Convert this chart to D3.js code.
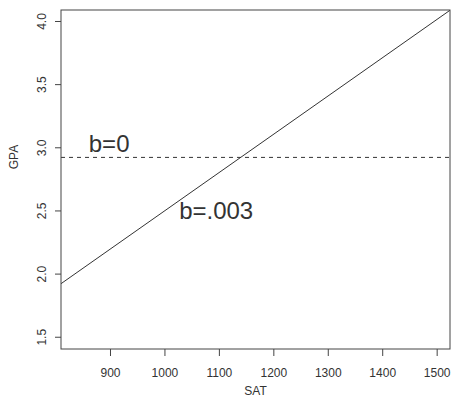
<!DOCTYPE html>
<meta charset="utf-8" />
<style>
  body { margin: 0; background: #fff; }
  text { font-family: "Liberation Sans", Arial, sans-serif; fill: #333; }
</style>
<svg width="451" height="405"></svg>
<script src="https://d3js.org/d3.v7.min.js"></script>
<script>
    // data
    var satTicks = [900, 1000, 1100, 1200, 1300, 1400, 1500];
    var gpaTicks = [1.5, 2.0, 2.5, 3.0, 3.5, 4.0];
    var satRange = [810, 1524.5];
    var gpaRange = [1.403, 4.087];

    // fitted line (b=.003) and the flat line (b=0)
    var fitLine = [{ sat: 810, gpa: 1.92 }, { sat: 1524.5, gpa: 4.085 }];
    var flatLine = [{ sat: 810, gpa: 2.92 }, { sat: 1524.5, gpa: 2.92 }];
    var labels = [
        { text: "b=0", sat: 861, gpa: 2.965 },
        { text: "b=.003", sat: 1027, gpa: 2.43 }
    ];

    var svg = d3.select("svg");
    // plot box edges (note: "top" is taken by window.top)
    var boxL = 61, boxR = 450, boxT = 10, boxB = 349;

    var x = d3.scaleLinear().domain(satRange).range([boxL, boxR]);
    var y = d3.scaleLinear().domain(gpaRange).range([boxB, boxT]);

    svg.append("clipPath").attr("id", "plot")
        .append("rect")
        .attr("x", boxL).attr("y", boxT)
        .attr("width", boxR - boxL).attr("height", boxB - boxT);

    var line = d3.line().x(d => x(d.sat)).y(d => y(d.gpa));

    var g = svg.append("g").attr("clip-path", "url(#plot)");
    g.append("path")
        .datum(flatLine)
        .attr("d", line)
        .attr("fill", "none")
        .attr("stroke", "#333")
        .attr("stroke-dasharray", "4,4");
    g.append("path")
        .datum(fitLine)
        .attr("d", line)
        .attr("fill", "none")
        .attr("stroke", "#333");

    // box
    svg.append("rect")
        .attr("x", boxL).attr("y", boxT)
        .attr("width", boxR - boxL).attr("height", boxB - boxT)
        .attr("fill", "none")
        .attr("stroke", "#444");

    // x axis
    var xAxis = svg.append("g")
        .attr("transform", "translate(0," + boxB + ")")
        .call(d3.axisBottom(x).tickValues(satTicks).tickSize(7).tickPadding(12).tickFormat(d3.format("d")));
    xAxis.select(".domain").remove();
    xAxis.selectAll("line").attr("stroke", "#444");
    xAxis.selectAll("text").attr("font-size", 12).attr("fill", "#333");

    // y axis, labels turned like R's default
    var yAxis = svg.append("g")
        .attr("transform", "translate(" + boxL + ",0)")
        .call(d3.axisLeft(y).tickValues(gpaTicks).tickSize(6).tickFormat(d3.format(".1f")));
    yAxis.select(".domain").remove();
    yAxis.selectAll("line").attr("stroke", "#444");
    yAxis.selectAll("text")
        .attr("x", null).attr("dy", null)
        .attr("text-anchor", "middle")
        .attr("transform", "translate(-15,0) rotate(-90)")
        .attr("font-size", 12).attr("fill", "#333");

    // axis titles
    svg.append("text")
        .attr("x", (boxL + boxR) / 2).attr("y", 395)
        .attr("text-anchor", "middle")
        .attr("font-size", 12)
        .text("SAT");
    svg.append("text")
        .attr("transform", "translate(18,157) rotate(-90)")
        .attr("text-anchor", "middle")
        .attr("font-size", 12)
        .text("GPA");

    // slope labels
    svg.selectAll(".lab")
        .data(labels)
        .enter()
        .append("text")
        .attr("class", "lab")
        .attr("x", d => x(d.sat))
        .attr("y", d => y(d.gpa))
        .attr("font-size", 24)
        .attr("fill", "#111")
        .text(d => d.text);
</script>
